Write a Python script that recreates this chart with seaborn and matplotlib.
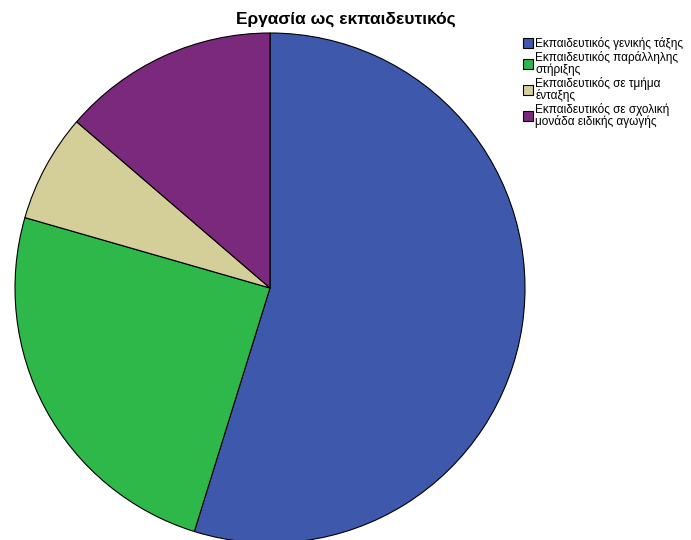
import matplotlib
matplotlib.use("Agg")
import matplotlib.pyplot as plt
import seaborn as sns

sns.set_style("white")
plt.rcParams["font.family"] = ["Liberation Sans", "DejaVu Sans"]
plt.rcParams["text.color"] = "black"

categories = [
    "Εκπαιδευτικός γενικής τάξης",
    "Εκπαιδευτικός παράλληλης\nστήριξης",
    "Εκπαιδευτικός σε τμήμα\nένταξης",
    "Εκπαιδευτικός σε σχολική\nμονάδα ειδικής αγωγής",
]
counts = [40, 18, 5, 10]
colors = sns.color_palette(["#3E58AC", "#2EB84A", "#D4CE99", "#7B297D"])

fig = plt.figure(figsize=(6.91, 5.40), dpi=100)
ax = fig.add_axes([15 / 691, -3 / 540, 510 / 691, 510 / 540])
wedges, _ = ax.pie(
    counts,
    colors=colors,
    startangle=90,
    counterclock=False,
    wedgeprops=dict(edgecolor="black", linewidth=0.8),
)
ax.set_xlim(-1, 1)
ax.set_ylim(-1, 1)
ax.set_aspect("equal")
ax.axis("off")

fig.text(0.5, 1 - 19 / 540, "Εργασία ως εκπαιδευτικός", ha="center", va="center",
         fontsize=12.5, fontweight="bold", color="black")

leg = fig.legend(
    wedges, categories,
    loc="upper left", bbox_to_anchor=(523 / 691, 1 - 37 / 540),
    frameon=False, fontsize=8.5, handlelength=0.85, handleheight=0.85,
    handletextpad=0.2, labelspacing=0.1, borderaxespad=0, borderpad=0,
)
for t in leg.get_texts():
    t.set_linespacing(0.9)
    t.set_color("black")
for h in leg.legend_handles:
    h.set_edgecolor("black")
    h.set_linewidth(0.8)

fig.savefig("out.png", dpi=100)
